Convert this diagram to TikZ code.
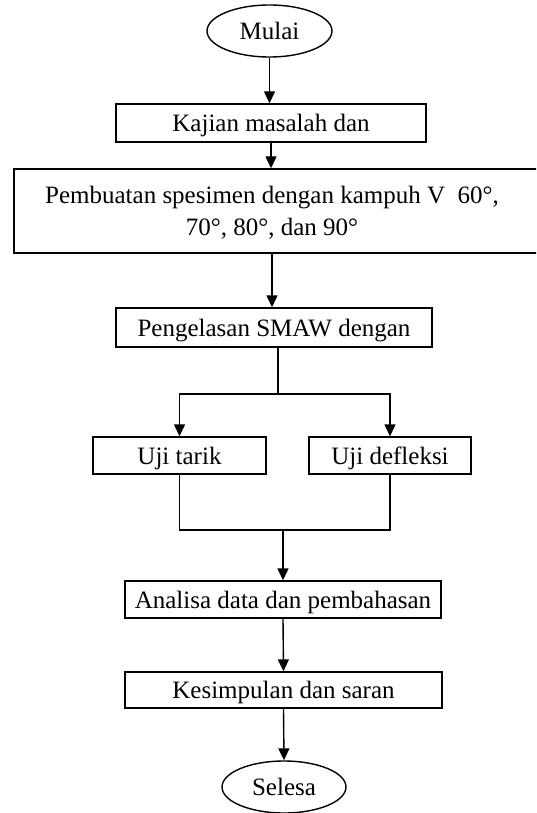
\documentclass[tikz,border=0pt]{standalone}
\usepackage{fontspec}
\setmainfont{Liberation Serif}
\usetikzlibrary{shapes.geometric,arrows.meta}
\begin{document}
\begin{tikzpicture}[x=1pt,y=-1pt,
  txt/.style={font=\fontsize{25}{32}\selectfont},
  box/.style={draw,line width=1.4pt,rectangle,inner sep=0pt,text depth=0pt,txt},
  oval/.style={draw,ellipse,line width=1.4pt,inner sep=0pt,text depth=0pt,txt},
  arr/.style={-{Triangle[length=12pt,width=11pt]},line width=1.4pt},
  ln/.style={line width=1.4pt}]
\useasboundingbox (0,0) rectangle (536,813);
\clip (0,0) rectangle (536,813);
\node[oval,minimum width=125pt,minimum height=52pt] (mulai) at (269.5,31) {Mulai};
\node[box,minimum width=310pt,minimum height=38pt] (kajian) at (271,123) {Kajian masalah dan};
\node[box,minimum width=546pt,minimum height=84pt] (big) at (287,211) {};
\node[txt,align=center,inner sep=0pt] (bigtxt) at (272,213) {Pembuatan spesimen dengan kampuh V\ \ 60°,\\70°, 80°, dan 90°};
\node[box,minimum width=316pt,minimum height=39pt] (peng) at (274,327.5) {Pengelasan SMAW dengan};
\node[box,minimum width=173pt,minimum height=37pt] (tarik) at (179.5,455.5) {Uji tarik};
\node[box,minimum width=162pt,minimum height=37pt] (def) at (390,455.5) {Uji defleksi};
\node[box,minimum width=316pt,minimum height=37pt] (anal) at (283,599.5) {Analisa data dan pembahasan};
\node[box,minimum width=317pt,minimum height=36pt] (kes) at (283.5,690) {Kesimpulan dan saran};
\node[oval,minimum width=124pt,minimum height=52pt] (sel) at (284,787) {Selesa};
\coordinate (s) at (278,394);
\coordinate (m) at (283,530);
\draw[arr] (mulai.south) -- (mulai.south |- kajian.north);
\draw[arr] (kajian.south) -- (kajian.south |- big.north);
\draw[arr] (bigtxt.center |- big.south) -- (bigtxt.center |- peng.north);
\draw[ln] (s |- peng.south) -- (s);
\draw[arr] (s) -| (tarik.north);
\draw[arr] (s) -| (def.north);
\draw[ln] (tarik.south) |- (m);
\draw[ln] (def.south) |- (m);
\draw[arr] (m) -- (anal.north);
\draw[arr] (anal.south) -- (kes.north);
\draw[arr] (kes.south) -- (sel.north);
\end{tikzpicture}
\end{document}
